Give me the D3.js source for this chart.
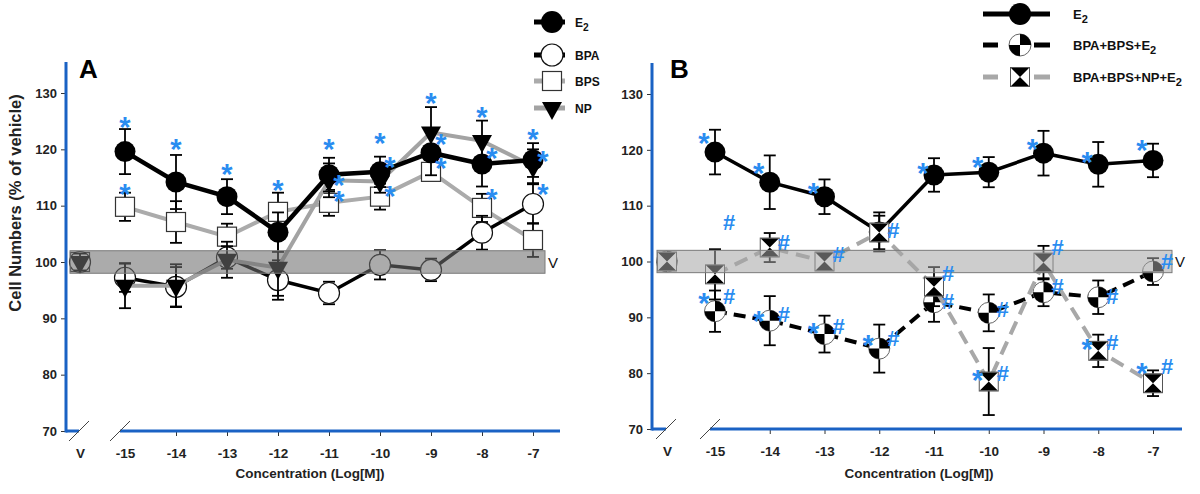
<!DOCTYPE html>
<html><head><meta charset="utf-8">
<script src="https://cdn.jsdelivr.net/npm/d3@7"></script>
<style>body{margin:0;background:#fff} text{font-family:Arial,"Liberation Sans",sans-serif}</style>
</head><body><svg id="c" width="1200" height="494"></svg>
<script>
// ---------- DATA ----------
const categories = ['V','-15','-14','-13','-12','-11','-10','-9','-8','-7'];
const yTicks = [70,80,90,100,110,120,130];
const bandRange = [98,102];

// Panel A
const e2Values   = [null,119.6,114.2,111.6,105.3,115.5,116.0,119.4,117.4,118.1];
const e2Err      = [0,4.0,4.8,3.1,3.5,3.0,2.7,4.0,4.0,3.0];
const bpaValues  = [100,97.2,95.6,100.8,96.8,94.5,99.5,98.6,105.2,110.3];
const bpaErr     = [1.5,2.5,3.5,2.0,3.5,2.0,2.6,2.0,3.0,3.5];
const bpsValues  = [100,109.8,107.1,104.5,108.9,110.5,111.6,116.0,109.6,103.9];
const bpsErr     = [1.5,2.5,3.7,2.3,3.4,2.3,2.3,1.5,2.5,3.0];
const npValues   = [100,95.8,95.8,100.4,99.0,114.5,114.3,123.0,121.5,117.0];
const npErr      = [1.5,4.0,3.8,3.2,5.0,3.0,2.0,4.5,3.6,3.0];

// Panel B
const mixE2Values   = [100,91.1,89.4,87.0,84.4,92.7,90.8,94.5,93.6,98.2];
const mixE2Err      = [1.5,3.7,4.4,3.3,4.3,3.5,3.3,2.5,3.0,2.4];
const mixNpE2Values = [100,97.7,102.5,100.0,105.2,95.5,78.5,99.8,84.0,78.2];
const mixNpE2Err    = [1.5,4.5,2.6,1.0,3.0,3.5,6.0,3.0,2.9,2.3];

// significance marks: [text, category, value, side]
const marksA = [
  ['*','-15',125.2,'c'],['*','-14',121.3,'c'],['*','-13',116.9,'c'],['*','-11',121.2,'c'],
  ['*','-10',122.4,'c'],['*','-9',129.5,'c'],['*','-8',127.0,'c'],['*','-7',123.1,'c'],
  ['*','-15',113.3,'c'],['*','-12',114.0,'c'],
  ['*','-11',114.8,'r'],['*','-11',112.1,'r'],['*','-10',118.0,'r'],['*','-10',113.0,'r'],
  ['*','-9',122.2,'r'],['*','-9',117.9,'r'],['*','-8',119.6,'r'],['*','-8',112.4,'r'],
  ['*','-7',119.2,'r'],['*','-7',113.3,'r']
];
const marksB = [
  ['*','-15',122.4,'l'],['*','-14',117.0,'l'],['*','-13',113.5,'l'],['*','-11',117.0,'l'],
  ['*','-10',118.1,'l'],['*','-9',121.3,'l'],['*','-8',119.0,'l'],['*','-7',121.2,'l'],
  ['#','-15',107.1,'r'],
  ['*','-15',93.8,'l'],['#','-15',93.8,'r'],['*','-14',90.6,'l'],['#','-14',90.6,'r'],
  ['*','-13',88.5,'l'],['#','-13',88.5,'r'],['*','-12',86.2,'l'],['#','-12',86.2,'r'],
  ['#','-14',103.4,'r'],['#','-13',101.4,'r'],['#','-12',105.7,'r'],
  ['#','-11',98.0,'r'],['#','-11',92.9,'r'],['#','-10',91.5,'r'],
  ['#','-9',102.5,'r'],['#','-9',95.6,'r'],['#','-8',93.8,'r'],['#','-7',100.0,'r'],
  ['*','-10',80.0,'l'],['#','-10',80.0,'r'],['*','-8',85.6,'l'],['#','-8',85.6,'r'],
  ['*','-7',81.2,'l'],['#','-7',81.2,'r']
];

// ---------- DRAW ----------
const svg = d3.select('#c');
const BLUE = '#1a62c4', STAR = '#2a8cf0';

function markerShape(g, kind, r) {
  if (kind === 'filledCircle') g.append('circle').attr('r', r).attr('fill', '#000');
  else if (kind === 'openCircle') g.append('circle').attr('r', r).attr('fill', '#fff').attr('stroke', '#111').attr('stroke-width', 1.2);
  else if (kind === 'square') g.append('rect').attr('x', -9.5).attr('y', -9.5).attr('width', 19).attr('height', 19).attr('fill', '#fff').attr('stroke', '#333').attr('stroke-width', 1.2);
  else if (kind === 'triangle') g.append('path').attr('d', 'M-10,-6 L10,-6 L0,12 Z').attr('fill', '#000');
  else if (kind === 'quarter') {
    g.append('circle').attr('r', r).attr('fill', '#fff').attr('stroke', '#666').attr('stroke-width', 1);
    g.append('path').attr('d', `M0,0 L0,${-r} A${r},${r} 0 0 1 ${r},0 Z`).attr('fill', '#000');
    g.append('path').attr('d', `M0,0 L0,${r} A${r},${r} 0 0 1 ${-r},0 Z`).attr('fill', '#000');
  } else if (kind === 'hourglass') {
    g.append('rect').attr('x', -9.5).attr('y', -9.5).attr('width', 19).attr('height', 19).attr('fill', '#fff').attr('stroke', '#555').attr('stroke-width', 1);
    g.append('path').attr('d', 'M-9,-9 L9,-9 L0,0 Z M-9,9 L9,9 L0,0 Z').attr('fill', '#000');
  }
}

function panel(cfg) {
  const g = svg.append('g');
  const x = d3.scaleOrdinal().domain(categories)
    .range(categories.map((c, i) => i === 0 ? cfg.vPos : cfg.firstPos + (i - 1) * cfg.step));
  const y = d3.scaleLinear().domain([70, 130]).range([cfg.axisY, cfg.topY]);

  // y axis
  const yAx = g.append('g').attr('transform', `translate(${cfg.axisX},0)`)
    .call(d3.axisLeft(y).tickValues(yTicks).tickSize(5).tickPadding(4));
  yAx.select('.domain').remove();
  yAx.selectAll('line').attr('stroke', '#333');
  yAx.selectAll('text').attr('font-size', 13).attr('font-weight', 'bold').attr('fill', '#222');
  g.append('line').attr('x1', cfg.axisX).attr('x2', cfg.axisX).attr('y1', cfg.topY - 31).attr('y2', cfg.axisY + 1.5)
    .attr('stroke', BLUE).attr('stroke-width', 3);

  // x axis
  const xAx = g.append('g').attr('transform', `translate(0,${cfg.axisY})`)
    .call(d3.axisBottom(x).tickSize(5).tickPadding(12));
  xAx.select('.domain').remove();
  xAx.selectAll('.tick').filter(d => d === 'V' || d === '-15').select('line').remove();
  xAx.selectAll('line').attr('stroke', '#333');
  xAx.selectAll('text').attr('font-size', 13.5).attr('font-weight', 'bold').attr('fill', '#222');
  const brk1 = cfg.vPos - 1, brk2 = cfg.firstPos - 5;
  g.append('line').attr('x1', cfg.axisX).attr('x2', brk1).attr('y1', cfg.axisY).attr('y2', cfg.axisY).attr('stroke', BLUE).attr('stroke-width', 3);
  g.append('line').attr('x1', brk2).attr('x2', cfg.xEnd).attr('y1', cfg.axisY).attr('y2', cfg.axisY).attr('stroke', BLUE).attr('stroke-width', 3);
  [brk1, brk2].forEach(b => g.append('line').attr('x1', b - 10).attr('y1', cfg.axisY + 10).attr('x2', b + 10).attr('y2', cfg.axisY - 10)
    .attr('stroke', '#444').attr('stroke-width', 1));
  g.append('text').attr('x', cfg.titleX).attr('y', 478).attr('text-anchor', 'middle')
    .attr('font-size', 13.5).attr('font-weight', 'bold').attr('fill', '#222').text('Concentration (Log[M])');

  // series
  cfg.series.forEach(s => {
    const pts = categories.map((c, i) => ({c, v: s.values[i], e: s.err[i], i})).filter(p => p.v != null);
    const linePts = pts.filter(p => p.c !== 'V');
    g.append('path').datum(linePts)
      .attr('d', d3.line().x(p => x(p.c)).y(p => y(p.v)))
      .attr('fill', 'none').attr('stroke', s.color).attr('stroke-width', s.width)
      .attr('stroke-dasharray', s.dash || null);
    const eb = g.append('g');
    pts.forEach(p => {
      const cx = x(p.c);
      eb.append('line').attr('x1', cx).attr('x2', cx).attr('y1', y(p.v - p.e)).attr('y2', y(p.v + p.e)).attr('stroke', '#000').attr('stroke-width', 1.8);
      [p.v - p.e, p.v + p.e].forEach(v => eb.append('line').attr('x1', cx - 6).attr('x2', cx + 6).attr('y1', y(v)).attr('y2', y(v)).attr('stroke', '#000').attr('stroke-width', 1.8));
    });
    pts.forEach(p => {
      const m = g.append('g').attr('transform', `translate(${x(p.c)},${y(p.v)})`);
      markerShape(m, s.marker, 10.5);
    });
  });

  // vehicle band (drawn over marks, translucent)
  g.append('rect').attr('x', cfg.bandX0).attr('width', cfg.bandX1 - cfg.bandX0)
    .attr('y', y(bandRange[1])).attr('height', y(bandRange[0]) - y(bandRange[1]))
    .attr('fill', cfg.bandFill).attr('fill-opacity', cfg.bandOpacity).attr('stroke', '#7a7a7a').attr('stroke-width', 1);
  g.append('text').attr('x', cfg.bandX1 + 3).attr('y', y(100) + 5.5).attr('font-size', 15).attr('fill', '#111').text('V');

  // significance marks
  cfg.marks.forEach(([t, c, v, side]) => {
    const dx = side === 'c' ? 0 : side === 'r' ? cfg.rOff : -11;
    const fs = t === '*' ? 29 : 22;
    g.append('text').attr('x', x(c) + dx).attr('y', y(v) + (t === '*' ? fs * 0.58 : fs * 0.36))
      .attr('text-anchor', 'middle').attr('font-size', fs).attr('font-weight', 'bold').attr('fill', STAR).text(t);
  });

  // panel letter
  g.append('text').attr('x', cfg.letterX).attr('y', 78).attr('font-size', 26).attr('font-weight', 'bold').attr('fill', '#000').text(cfg.letter);
  return {x, y};
}

panel({
  letter: 'A', letterX: 79, axisX: 66, axisY: 431, topY: 93, vPos: 80, firstPos: 125, step: 51, xEnd: 560,
  bandX0: 70, bandX1: 545, bandFill: '#6e6e6e', bandOpacity: 0.58, titleX: 310, rOff: 10,
  series: [
    {values: bpsValues, err: bpsErr, color: '#ababab', width: 4, marker: 'square'},
    {values: bpaValues, err: bpaErr, color: '#000', width: 3.5, marker: 'openCircle'},
    {values: npValues, err: npErr, color: '#a3a3a3', width: 4, marker: 'triangle'},
    {values: e2Values, err: e2Err, color: '#000', width: 4.5, marker: 'filledCircle'}
  ],
  marks: marksA
});
panel({
  letter: 'B', letterX: 670, axisX: 652, axisY: 429, topY: 94, vPos: 667, firstPos: 715, step: 54.75, xEnd: 1182,
  bandX0: 657, bandX1: 1172, bandFill: '#a4a4a4', bandOpacity: 0.55, titleX: 919, rOff: 14,
  series: [
    {values: e2Values, err: e2Err, color: '#000', width: 3.5, marker: 'filledCircle'},
    {values: mixE2Values, err: mixE2Err, color: '#000', width: 4, dash: '12,7', marker: 'quarter'},
    {values: mixNpE2Values, err: mixNpE2Err, color: '#a8a8a8', width: 4, dash: '14,8', marker: 'hourglass'}
  ],
  marks: marksB
});

// y-axis title
svg.append('text').attr('transform', 'translate(21,203) rotate(-90)').attr('text-anchor', 'middle')
  .attr('font-size', 16.5).attr('font-weight', 'bold').attr('fill', '#222').text('Cell Numbers (% of vehicle)');

// legends
function legend(items, lx0, lx1, mx, tx, fs) {
  items.forEach(it => {
    const g = svg.append('g');
    if (it.dash) {
      g.append('line').attr('x1', lx0).attr('x2', mx - 22).attr('y1', it.y).attr('y2', it.y).attr('stroke', it.color).attr('stroke-width', 5);
      g.append('line').attr('x1', mx + 14).attr('x2', lx1).attr('y1', it.y).attr('y2', it.y).attr('stroke', it.color).attr('stroke-width', 5);
    } else {
      g.append('line').attr('x1', lx0).attr('x2', lx1).attr('y1', it.y).attr('y2', it.y).attr('stroke', it.color).attr('stroke-width', 5);
    }
    const m = g.append('g').attr('transform', `translate(${mx},${it.y})`);
    markerShape(m, it.marker, 11);
    const t = g.append('text').attr('x', tx).attr('y', it.y + 5).attr('font-size', fs).attr('font-weight', 'bold').attr('fill', '#111');
    t.append('tspan').text(it.label);
    if (it.sub) t.append('tspan').attr('dy', 4).attr('font-size', fs * 0.85).text(it.sub);
  });
}
legend([
  {y: 22, label: 'E', sub: '2', marker: 'filledCircle', color: '#000'},
  {y: 55, label: 'BPA', marker: 'openCircle', color: '#000'},
  {y: 81, label: 'BPS', marker: 'square', color: '#ababab'},
  {y: 108, label: 'NP', marker: 'triangle', color: '#a3a3a3'}
], 534, 565, 552, 575, 12);
legend([
  {y: 14, label: 'E', sub: '2', marker: 'filledCircle', color: '#000'},
  {y: 45, label: 'BPA+BPS+E', sub: '2', marker: 'quarter', color: '#000', dash: true},
  {y: 77, label: 'BPA+BPS+NP+E', sub: '2', marker: 'hourglass', color: '#a8a8a8', dash: true}
], 983, 1050, 1020, 1073, 13);
</script></body></html>
